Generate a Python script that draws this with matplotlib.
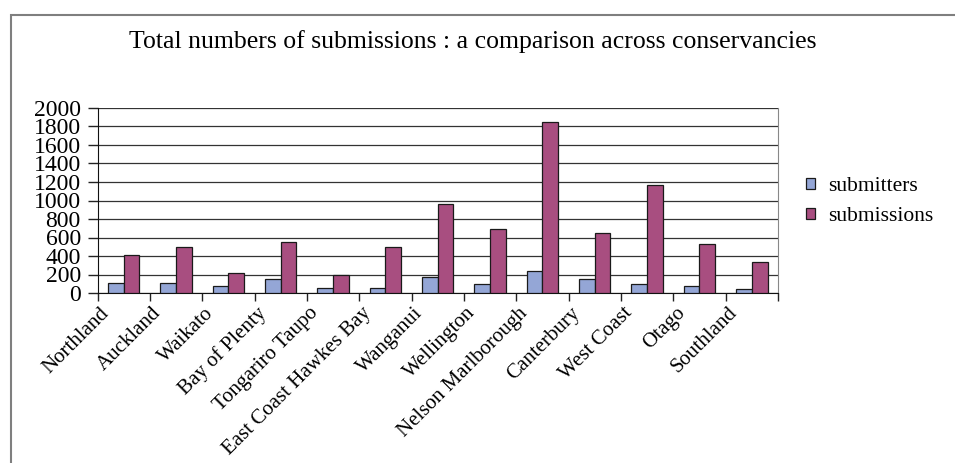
import matplotlib
matplotlib.use("Agg")
import matplotlib.pyplot as plt
import matplotlib.transforms as mtransforms
import numpy as np
from matplotlib.patches import Rectangle

categories = ["Northland", "Auckland", "Waikato", "Bay of Plenty", "Tongariro Taupo",
              "East Coast Hawkes Bay", "Wanganui", "Wellington", "Nelson Marlborough",
              "Canterbury", "West Coast", "Otago", "Southland"]
submitters = [105, 105, 80, 155, 58, 58, 177, 101, 235, 155, 101, 79, 40]
submissions = [415, 500, 220, 556, 200, 500, 967, 693, 1845, 653, 1166, 534, 336]
yticks = list(range(0, 2001, 200))

plt.rcParams["font.family"] = ["Liberation Serif", "DejaVu Serif"]

W, H = 955, 463
fig = plt.figure(figsize=(W / 100, H / 100), dpi=100)

# outer chart frame
fig.patches.append(Rectangle((11 / W, -0.05), 1.1, (H - 15) / H + 0.05,
                             transform=fig.transFigure, fill=False,
                             edgecolor="#7f7f7f", linewidth=1.5))

ax = fig.add_axes([97.5 / W, 1 - 293 / H, (778 - 97.5) / W, (293 - 108) / H])

x = np.arange(len(categories))
bw = 0.3
ax.bar(x - bw / 2, submitters, bw, color="#94A6D6", edgecolor="#1a1a1a",
       linewidth=0.9, label="submitters", zorder=3)
ax.bar(x + bw / 2, submissions, bw, color="#A84E80", edgecolor="#1a1a1a",
       linewidth=0.9, label="submissions", zorder=3)

ax.set_xlim(-0.5, len(categories) - 0.5)
ax.set_ylim(0, 2000)
ax.set_yticks(yticks)
ax.set_yticklabels([str(v) for v in yticks], fontsize=17)
ax.yaxis.grid(True, color="#333333", linewidth=0.9, zorder=0)
ax.set_axisbelow(True)

# category labels at centres, tick marks at group boundaries
ax.set_xticks(x)
ax.set_xticklabels(categories, rotation=45, ha="right", rotation_mode="anchor",
                   fontsize=15)
ax.tick_params(axis="x", which="major", length=0, pad=4)
ax.set_xticks(np.arange(-0.5, len(categories), 1.0), minor=True)
ax.tick_params(axis="x", which="minor", length=6, width=1, color="#222222",
               direction="out")
ax.tick_params(axis="y", length=7, width=1, color="#222222", direction="out", pad=5)

shift = mtransforms.ScaledTranslation(-24 / 100, -5 / 100, fig.dpi_scale_trans)
for lbl in ax.get_xticklabels():
    lbl.set_transform(lbl.get_transform() + shift)

ax.spines["top"].set_visible(False)
ax.spines["right"].set_color("#888888")
ax.spines["left"].set_color("#111111")
ax.spines["bottom"].set_color("#111111")

fig.text(473 / W, 1 - 42 / H,
         "Total numbers of submissions : a comparison across conservancies",
         ha="center", va="center", fontsize=18.5)

leg = fig.legend(loc="upper left", bbox_to_anchor=(787 / W, 1 - 158 / H),
                 frameon=False, fontsize=15.5, handlelength=0.4, handleheight=0.4,
                 handletextpad=0.6, labelspacing=0.5)

fig.savefig("out.png", dpi=100)
